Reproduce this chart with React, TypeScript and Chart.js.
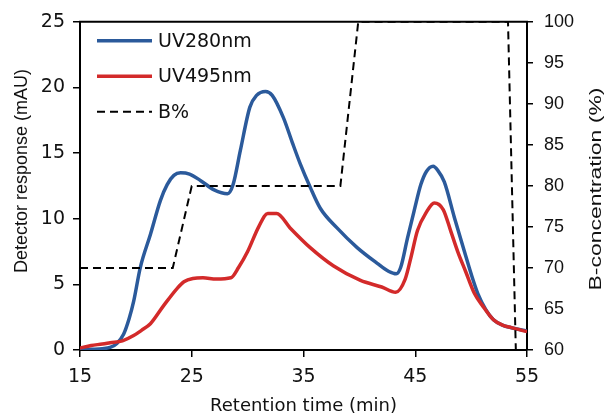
import React, { useEffect, useRef } from "react";
import { Chart, registerables } from "chart.js";

Chart.register(...registerables);

const uv280Time = [15, 16, 17, 17.7, 18.3, 18.9, 19.4, 19.8, 20.4, 21.3, 22.2, 22.8, 23.4, 24, 24.8, 25.8, 27, 28.2, 28.7, 29.35, 30.2, 30.8, 31.6, 32.2, 33.2, 34.0, 34.7, 35.6, 36.5, 38.0, 39.8, 41.6, 42.6, 43.3, 43.7, 44.3, 44.9, 45.5, 46.0, 46.6, 47.0, 47.6, 48.5, 49.4, 50.0, 50.6, 51.3, 52.0, 52.8, 53.6, 55];
const uv280 = [0, 0.05, 0.1, 0.2, 0.5, 1.2, 2.4, 3.7, 6.3, 8.8, 11.4, 12.6, 13.3, 13.5, 13.4, 12.9, 12.2, 11.9, 12.6, 15.2, 18.5, 19.4, 19.7, 19.4, 17.7, 15.8, 14.2, 12.4, 10.8, 9.3, 7.8, 6.6, 6.0, 5.8, 6.3, 8.5, 10.6, 12.6, 13.6, 14.0, 13.7, 12.8, 10.1, 7.5, 5.8, 4.3, 3.1, 2.3, 1.9, 1.7, 1.45];

const uv495Time = [15, 16, 17, 17.7, 18.8, 19.8, 20.5, 21.3, 22.5, 23.7, 24.3, 25.1, 26, 27.2, 28.5, 29.2, 30, 31, 31.8, 32.6, 33.8, 35.6, 37.7, 40.1, 42, 43.25, 44.1, 44.6, 45.2, 46.0, 46.7, 47.5, 48.2, 48.8, 49.5, 50.3, 51.0, 52.0, 52.8, 53.6, 55];
const uv495 = [0.15, 0.35, 0.45, 0.55, 0.7, 1.1, 1.5, 2.0, 3.4, 4.7, 5.2, 5.45, 5.5, 5.4, 5.5, 6.3, 7.5, 9.4, 10.4, 10.4, 9.3, 7.8, 6.4, 5.3, 4.8, 4.4, 5.4, 7.0, 9.1, 10.5, 11.2, 10.7, 9.0, 7.5, 6.0, 4.3, 3.4, 2.3, 1.9, 1.7, 1.4];

const bTime = [15, 23.3, 25, 38.3, 39.9, 53.3, 54];
const bPercent = [70, 70, 80, 80, 100, 100, 60];

const xTickValues = [15, 25, 35, 45, 55];
const seriesLabels = ["UV280nm", "UV495nm", "B%"];
const xTitle = "Retention time (min)";
const yTitle = "Detector response (mAU)";
const y1Title = "B-concentration (%)";

const pts = (xs: number[], ys: number[]) => xs.map((x, i) => ({ x, y: ys[i] }));

const extrasPlugin = {
  id: "extras",
  afterDatasetsDraw(chart: any) {
    const { ctx, chartArea } = chart;
    ctx.save();
    ctx.strokeStyle = "#000";
    ctx.lineWidth = 2;
    ctx.beginPath();
    ctx.moveTo(chartArea.left - 1, chartArea.top);
    ctx.lineTo(chartArea.right + 1, chartArea.top);
    ctx.stroke();
    ctx.restore();
  },
  afterDraw(chart: any) {
    const { ctx, chartArea } = chart;
    ctx.save();
    const ds = chart.data.datasets;
    ds.forEach((d: any, row: number) => {
      const y = chartArea.top + 19 + row * 35.5;
      const x0 = chartArea.left + 17;
      ctx.strokeStyle = d.borderColor;
      ctx.lineWidth = d.borderWidth;
      ctx.setLineDash(d.borderDash || []);
      ctx.beginPath();
      ctx.moveTo(x0, y);
      ctx.lineTo(x0 + 55, y);
      ctx.stroke();
      ctx.setLineDash([]);
      ctx.fillStyle = "#111";
      ctx.font = "19px 'DejaVu Sans'";
      ctx.textBaseline = "middle";
      ctx.textAlign = "left";
      ctx.fillText(d.label, x0 + 61, y + 1);
    });
    ctx.fillStyle = "#111";
    ctx.textAlign = "center";
    ctx.textBaseline = "middle";
    ctx.font = "18px 'DejaVu Sans'";
    ctx.fillText(xTitle, (chartArea.left + chartArea.right) / 2, chartArea.bottom + 56);

    ctx.save();
    ctx.translate(22, 171);
    ctx.rotate(-Math.PI / 2);
    ctx.font = "18px 'Liberation Sans'";
    ctx.fillText(yTitle, 0, 0);
    ctx.restore();

    ctx.save();
    ctx.translate(596, 189);
    ctx.rotate(-Math.PI / 2);
    ctx.font = "17px 'Liberation Sans'";
    const w = ctx.measureText(y1Title).width;
    ctx.scale(203 / w, 1);
    ctx.fillText(y1Title, 0, 0);
    ctx.restore();

    ctx.restore();
  },
};

export default function App() {
  const ref = useRef<HTMLCanvasElement | null>(null);
  useEffect(() => {
    document.body.style.margin = "0";
    const canvas = ref.current!;
    const axisGrid = { display: true, drawOnChartArea: false, drawTicks: true, tickLength: 7, color: "#000", lineWidth: 1.5 };
    const axisBorder = { display: true, color: "#000", width: 2 };
    const chart = new Chart(canvas, {
      type: "line",
      data: {
        datasets: [
          { label: seriesLabels[0], data: pts(uv280Time, uv280), borderColor: "#2b5a9b", borderWidth: 3.5, pointRadius: 0, cubicInterpolationMode: "monotone", yAxisID: "y", order: 2 },
          { label: seriesLabels[1], data: pts(uv495Time, uv495), borderColor: "#d32a2a", borderWidth: 3.5, pointRadius: 0, cubicInterpolationMode: "monotone", yAxisID: "y", order: 1 },
          { label: seriesLabels[2], data: pts(bTime, bPercent), borderColor: "#000", borderWidth: 2, borderDash: [8, 5], pointRadius: 0, tension: 0, yAxisID: "y1", order: 0 },
        ],
      } as any,
      options: {
        responsive: false,
        animation: false,
        events: [],
        layout: { padding: { top: 21, left: 0, right: 0, bottom: 0 } },
        plugins: { legend: { display: false }, tooltip: { enabled: false } },
        scales: {
          x: {
            type: "linear",
            min: 15,
            max: 55,
            afterBuildTicks: (s: any) => { s.ticks = xTickValues.map((v) => ({ value: v })); },
            afterFit: (s: any) => { s.height = 64; },
            grid: axisGrid,
            border: axisBorder,
            ticks: { color: "#111", font: { family: "DejaVu Sans", size: 19 }, padding: 9, maxRotation: 0 },
          },
          y: {
            type: "linear",
            position: "left",
            min: 0,
            max: 25,
            afterFit: (s: any) => { s.width = 80; },
            grid: axisGrid,
            border: axisBorder,
            ticks: { stepSize: 5, color: "#111", font: { family: "DejaVu Sans", size: 19 }, padding: 8 },
          },
          y1: {
            type: "linear",
            position: "right",
            min: 60,
            max: 100,
            afterFit: (s: any) => { s.width = 79; },
            grid: { ...axisGrid, tickLength: 6 },
            border: axisBorder,
            ticks: { stepSize: 5, color: "#111", font: { family: "'Liberation Sans', Arial, sans-serif", size: 18 }, padding: 11 },
          },
        },
      } as any,
      plugins: [extrasPlugin],
    });
    return () => chart.destroy();
  }, []);
  return <canvas ref={ref} width={606} height={414} style={{ display: "block", width: 606, height: 414 }} />;
}
